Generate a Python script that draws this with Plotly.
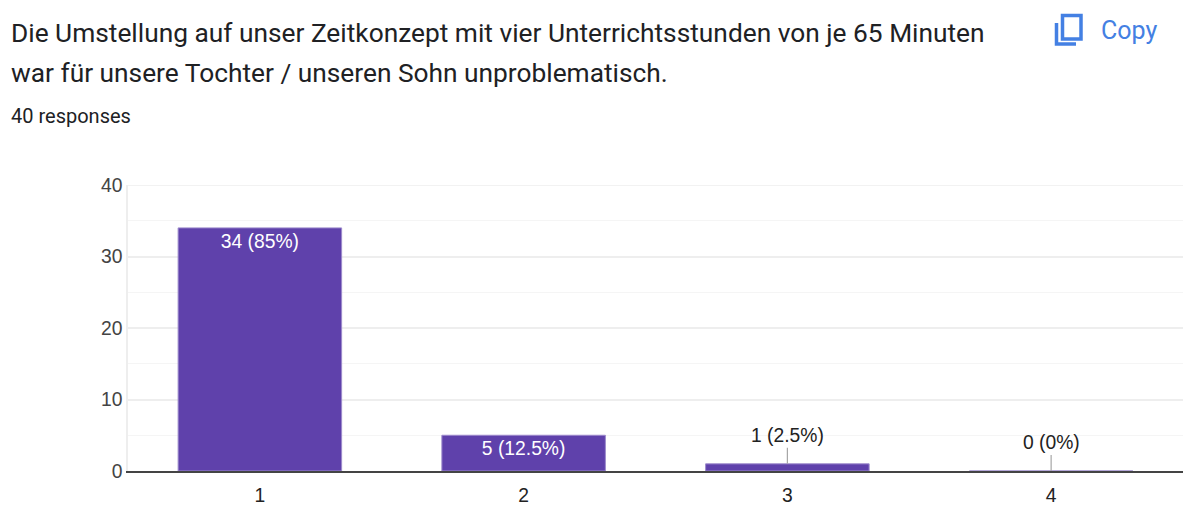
import plotly.graph_objects as go

W = 1196
H = 512
L, R, T, B = 128, 13, 185, 41

categories = ['1', '2', '3', '4']
counts = [34, 5, 1, 0]
labels = ['34 (85%)', '5 (12.5%)', '1 (2.5%)', '0 (0%)']
title_lines = ['Die Umstellung auf unser Zeitkonzept mit vier Unterrichtsstunden von je 65 Minuten',
               'war für unsere Tochter / unseren Sohn unproblematisch.']
responses = '40 responses'

PURPLE = '#5f41ab'
BLUE = '#4480e3'
LABEL_SIZE = 19.3


def px(x):
    return (x - L) / (W - L - R)


def py(y):
    return (H - B - y) / (H - T - B)


def page_text(x, y, text, size, color='#202124', font='Roboto', anchor='left'):
    return dict(x=px(x), y=py(y), xref='paper', yref='paper', text=text, showarrow=False,
                xanchor=anchor, yanchor='middle', borderpad=0, borderwidth=0,
                font=dict(family=font, size=size, color=color))


# the big bars get their label inside, the small ones get a leader line
inside = [lab if c >= 5 else '' for c, lab in zip(counts, labels)]

fig = go.Figure(go.Bar(x=categories, y=counts, text=inside, textposition='inside',
                       insidetextanchor='end', textangle=0, constraintext='none',
                       textfont=dict(family='Liberation Sans', size=LABEL_SIZE, color='white'),
                       marker=dict(color=PURPLE, line=dict(color='#9d8bcc', width=1)),
                       hoverinfo='skip'))

annotations = [
    page_text(11, 33, title_lines[0], 26.3),
    page_text(11, 73, title_lines[1], 26.3),
    page_text(11, 116, responses, 20),
    page_text(1101, 30, 'Copy', 25, color=BLUE),
]
for i, (c, lab) in enumerate(zip(counts, labels)):
    if c < 5:
        annotations.append(dict(x=i, y=c, text=lab, showarrow=True, arrowhead=0, arrowwidth=1.2,
                                arrowcolor='#a6a6a6', ax=0, ay=-16,
                                yanchor='bottom', standoff=0,
                                font=dict(family='Liberation Sans', size=LABEL_SIZE, color='#222222')))

shapes = [
    # copy icon top right
    dict(type='rect', xref='paper', yref='paper', x0=px(1062.5), x1=px(1081), y0=py(15.5), y1=py(39),
         line=dict(color=BLUE, width=3.5)),
    dict(type='path', xref='paper', yref='paper',
         path=f'M {px(1056.5)} {py(23)} L {px(1056.5)} {py(44)} L {px(1076)} {py(44)}',
         line=dict(color=BLUE, width=3.5)),
    # top border, plotly drops the gridline at the end of the range
    dict(type='line', xref='paper', yref='y', x0=0, x1=1, y0=40, y1=40, line=dict(color='#eeeeee', width=1.5)),
]

fig.update_layout(
    width=W, height=H, margin=dict(l=L, r=R, t=T, b=B),
    paper_bgcolor='white', plot_bgcolor='white', showlegend=False, bargap=0.38,
    annotations=annotations, shapes=shapes,
    xaxis=dict(type='category', range=[-0.5, 3.5], showgrid=False, ticks='', zeroline=False,
               showline=True, linecolor='#444444', linewidth=2,
               automargin=False, ticklabelstandoff=6,
               tickfont=dict(family='Liberation Sans', size=LABEL_SIZE, color='#222222')),
    yaxis=dict(range=[0, 40], tickvals=[0, 10, 20, 30, 40], gridcolor='#eeeeee', gridwidth=1.5,
               minor=dict(tickvals=[5, 15, 25, 35], showgrid=True, gridcolor='#f5f5f5', gridwidth=1),
               zeroline=False, showline=True, linecolor='#eeeeee', linewidth=1.5, automargin=False,
               tickfont=dict(family='Liberation Sans', size=LABEL_SIZE, color='#444444'), ticklabelstandoff=0),
)

fig.write_html('out.html', config=dict(displayModeBar=False), post_script="document.body.style.margin='0';")
